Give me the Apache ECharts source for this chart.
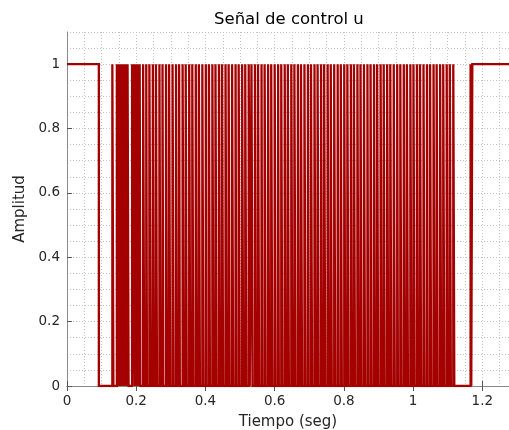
<!DOCTYPE html>
<html>
<head>
<meta charset="utf-8">
<script src="https://cdn.jsdelivr.net/npm/echarts@6/dist/echarts.min.js"></script>
<style>
html,body{margin:0;padding:0;background:#fff;}
#chart{width:509px;height:430px;}
</style>
</head>
<body>
<div id="chart"></div>
<script>
// ---- data ----
const titleText = 'Señal de control u';
const xLabel = 'Tiempo (seg)';
const yLabel = 'Amplitud';
const xRange = [0, 1.277];
const yRange = [0, 1.1];
const xTickStep = 0.2;
const yTickStep = 0.2;
const gridStep = 0.05;
const initialLevel = 1;
// switching instants of the control signal, in milliseconds
const toggleMs = [
  92,
  131,134,
  144,146, 149,151, 154,157, 159,162, 164,167, 170,172, 175,178,
  188,190, 193,197, 199,202, 205,207, 210,212,
  220,223, 229,231, 238,242, 248,251, 257,260, 267,270, 276,278, 286,289,
  295,298, 305,308, 315,318, 324,326, 334,337, 343,346, 353,356, 362,365,
  372,375, 381,384, 391,394, 401,403, 410,413, 420,423, 429,432, 439,442,
  448,451, 458,461, 467,470, 477,480, 487,489, 496,499, 506,509, 515,518,
  525,528, 533,536,
  543,546, 552,555, 562,564, 571,574, 581,584, 590,593, 600,603, 610,612,
  619,622, 629,632, 638,641, 648,651, 657,660, 667,670, 676,679, 686,689,
  696,698, 705,708, 715,718, 724,727, 734,737, 743,746, 753,756, 762,765,
  772,775, 782,784, 791,794, 801,804, 810,813, 820,823, 829,832, 839,842,
  848,851, 858,861, 868,870, 877,880, 887,890, 896,899, 906,909, 915,918,
  925,928, 934,937, 944,947, 954,956, 963,966, 973,976, 982,985, 992,995,
  1001,1004, 1011,1014, 1020,1023, 1030,1033, 1040,1042, 1049,1052, 1059,1062,
  1068,1071, 1078,1081, 1087,1090, 1097,1100, 1106,1109, 1116,1119,
  1166,1168,1171
];

// ---- build step line points from the switching instants ----
const points = [[xRange[0], initialLevel]];
let level = initialLevel;
for (const ms of toggleMs) {
  const t = ms / 1000;
  points.push([t, level]);
  level = 1 - level;
  points.push([t, level]);
}
points.push([xRange[1], level]);

const FONT = 'DejaVu Sans';
const TXT = '#262626';
const AXC = '#8a8a8a';
const TICKC = '#555555';
const gridLine = {show: true, lineStyle: {color: '#c4c4c4', width: 1, type: [1, 2]}};

const chart = echarts.init(document.getElementById('chart'), null, {renderer: 'canvas'});
chart.setOption({
  animation: false,
  backgroundColor: '#ffffff',
  textStyle: {fontFamily: FONT},
  title: {
    text: titleText, left: 214, top: 11, padding: 0,
    textStyle: {fontFamily: FONT, fontSize: 16.5, fontWeight: 'normal', color: '#000'}
  },
  grid: {left: 67, right: 0, top: 32, bottom: 44, containLabel: false, outerBoundsMode: 'none'},
  xAxis: [
    {
      type: 'value', min: xRange[0], max: xRange[1], interval: xTickStep, position: 'bottom',
      name: xLabel, nameLocation: 'middle', nameGap: 29,
      nameTextStyle: {fontFamily: FONT, fontSize: 15, color: TXT},
      axisLine: {show: true, lineStyle: {color: AXC, width: 1}},
      axisTick: {show: true, inside: true, length: 5, lineStyle: {color: TICKC}},
      axisLabel: {show: true, margin: 8, color: TXT, fontSize: 13.5, fontFamily: FONT, showMaxLabel: false},
      splitLine: {show: false}
    },
    {
      type: 'value', min: xRange[0], max: xRange[1], interval: xTickStep, position: 'top',
      axisLine: {show: true, lineStyle: {color: AXC, width: 1}},
      axisTick: {show: true, inside: true, length: 5, lineStyle: {color: TICKC}},
      axisLabel: {show: false}, splitLine: {show: false}
    },
    {
      type: 'value', min: xRange[0], max: xRange[1], interval: gridStep, position: 'bottom',
      axisLine: {show: false}, axisTick: {show: false}, axisLabel: {show: false},
      splitLine: gridLine
    }
  ],
  yAxis: [
    {
      type: 'value', min: yRange[0], max: yRange[1], interval: yTickStep, position: 'left',
      name: yLabel, nameLocation: 'middle', nameGap: 38, nameRotate: 90,
      nameTextStyle: {fontFamily: FONT, fontSize: 15, color: TXT},
      axisLine: {show: true, lineStyle: {color: AXC, width: 1}},
      axisTick: {show: true, inside: true, length: 5, lineStyle: {color: TICKC}},
      axisLabel: {show: true, margin: 7, color: TXT, fontSize: 13.5, fontFamily: FONT, showMaxLabel: false},
      splitLine: {show: false}
    },
    {
      type: 'value', min: yRange[0], max: yRange[1], interval: gridStep, position: 'left',
      axisLine: {show: false}, axisTick: {show: false}, axisLabel: {show: false},
      splitLine: gridLine
    }
  ],
  series: [{
    type: 'line', xAxisIndex: 0, yAxisIndex: 0,
    data: points, symbol: 'none', showSymbol: false,
    lineStyle: {color: '#a40000', width: 2.3, join: 'miter'}, itemStyle: {color: '#a40000'},
    clip: true, z: 5
  }]
});
</script>
</body>
</html>
